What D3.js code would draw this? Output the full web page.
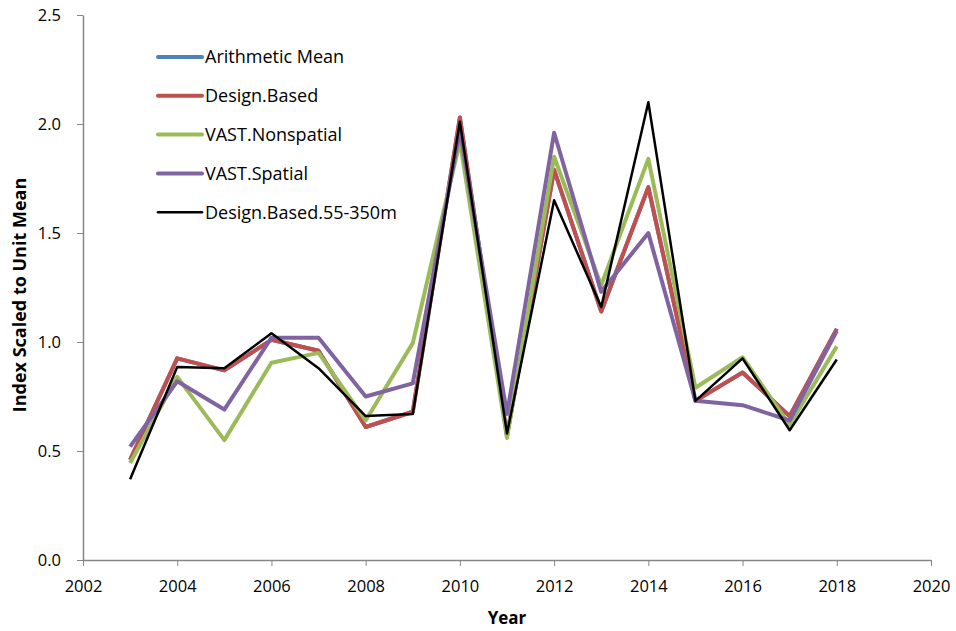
<!DOCTYPE html>
<meta charset="utf-8">
<style>
body { margin: 0; background: #fff; }
text { font-family: "Open Sans", sans-serif; fill: #000; }
.axis path, .axis line { stroke: #868686; }
.axis text { font-size: 16.5px; }
</style>
<svg width="956" height="631"></svg>
<script src="https://d3js.org/d3.v7.min.js"></script>
<script>

var years = [2003, 2004, 2005, 2006, 2007, 2008, 2009, 2010, 2011, 2012, 2013, 2014, 2015, 2016, 2017, 2018];

var arithmeticMean = [0.46, 0.925, 0.87, 1.01, 0.96, 0.61, 0.68, 2.03, 0.57, 1.79, 1.14, 1.71, 0.73, 0.86, 0.66, 1.06];
var designBased    = [0.46, 0.925, 0.87, 1.01, 0.96, 0.61, 0.68, 2.03, 0.57, 1.79, 1.14, 1.71, 0.73, 0.86, 0.66, 1.06];
var vastNonspatial = [0.445, 0.84, 0.55, 0.905, 0.95, 0.64, 0.995, 1.92, 0.56, 1.85, 1.26, 1.84, 0.79, 0.93, 0.62, 0.98];
var vastSpatial    = [0.52, 0.82, 0.69, 1.02, 1.02, 0.75, 0.81, 1.97, 0.67, 1.96, 1.23, 1.50, 0.73, 0.71, 0.64, 1.05];
var designBased55  = [0.37, 0.885, 0.88, 1.04, 0.88, 0.66, 0.67, 2.01, 0.58, 1.65, 1.16, 2.10, 0.73, 0.925, 0.595, 0.92];

var seriesNames = ["Arithmetic Mean", "Design.Based", "VAST.Nonspatial", "VAST.Spatial", "Design.Based.55-350m"];
var seriesValues = [arithmeticMean, designBased, vastNonspatial, vastSpatial, designBased55];
var seriesColors = ["#4F81BD", "#C0504D", "#9BBB59", "#8064A2", "#000000"];
var seriesWidths = [4, 4, 4, 4, 2.5];

var xTicks = [2002, 2004, 2006, 2008, 2010, 2012, 2014, 2016, 2018, 2020];
var yTicks = [0, 0.5, 1.0, 1.5, 2.0, 2.5];

var svg = d3.select("svg"),
	margin = {left: 83, right: 25, top: 15, bottom: 71},
	width = +svg.attr("width"),
	height = +svg.attr("height");

var x = d3.scaleLinear().domain([2002, 2020]).range([margin.left, width - margin.right]);
var y = d3.scaleLinear().domain([0, 2.5]).range([height - margin.bottom, margin.top]);

// axes
svg.append("g")
	.attr("class", "axis")
	.attr("transform", "translate(0," + y(0) + ")")
	.call(d3.axisBottom(x).tickValues(xTicks).tickFormat(d3.format("d")).tickSize(6).tickSizeOuter(0).tickPadding(14));

svg.append("g")
	.attr("class", "axis")
	.attr("transform", "translate(" + x(2002) + ",0)")
	.call(d3.axisLeft(y).tickValues(yTicks).tickFormat(d3.format(".1f")).tickSize(6).tickSizeOuter(0).tickPadding(16));

svg.selectAll(".axis .domain").attr("stroke-width", 1.5);

svg.append("text")
	.attr("transform", "translate(26,295) rotate(-90)")
	.attr("text-anchor", "middle")
	.style("font-size", "18px")
	.style("font-weight", "bold")
	.text("Index Scaled to Unit Mean");

svg.append("text")
	.attr("x", 507)
	.attr("y", 624)
	.attr("text-anchor", "middle")
	.style("font-size", "17px")
	.style("font-weight", "bold")
	.text("Year");

// lines
var line = d3.line()
	.x(function(d, i) { return x(years[i]); })
	.y(function(d) { return y(d); });

svg.append("g")
	.selectAll("path")
	.data(seriesValues)
	.enter().append("path")
	  .attr("d", line)
	  .attr("fill", "none")
	  .attr("stroke", function(d, i) { return seriesColors[i]; })
	  .attr("stroke-width", function(d, i) { return seriesWidths[i]; })
	  .attr("stroke-linejoin", "round");

// legend
var legend = svg.append("g")
	.selectAll("g")
	.data(seriesNames)
	.enter().append("g")
	  .attr("transform", function(d, i) { return "translate(158," + (57 + i * 38.8) + ")"; });

legend.append("line")
	.attr("x1", 0).attr("x2", 44)
	.attr("stroke", function(d, i) { return seriesColors[i]; })
	.attr("stroke-width", function(d, i) { return seriesWidths[i]; })
	.attr("stroke-linecap", "round");

legend.append("text")
	.attr("x", 47)
	.attr("dy", "0.35em")
	.style("font-size", "18px")
	.text(function(d) { return d; });

</script>
